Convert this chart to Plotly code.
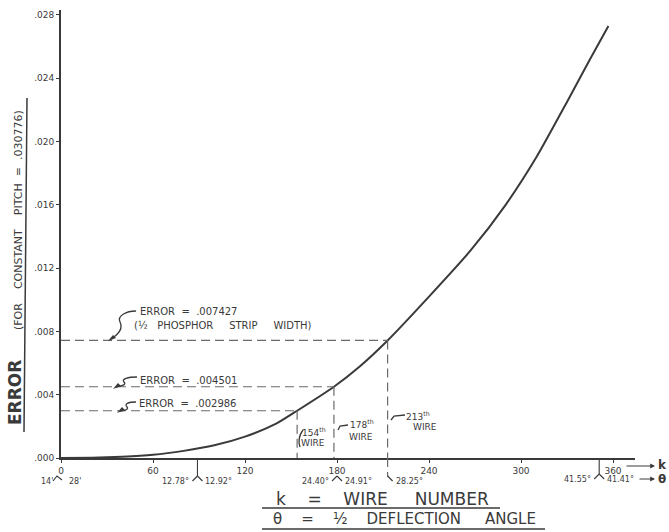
import plotly.graph_objects as go

# Error of wire position vs. wire number k (pitch held constant)
wire_k = [0, 20, 40, 60, 80, 100, 120, 140, 154, 178, 195, 213, 240, 267, 290, 310, 330, 345, 357]
error = [0, 0.00002, 0.00008, 0.0002, 0.00045, 0.0008, 0.00135, 0.00215, 0.002986,
         0.004501, 0.0058, 0.007427, 0.0102, 0.0131, 0.0160, 0.0190, 0.0225, 0.0252, 0.0273]

# Wires singled out with their errors
marked_k = [154, 178, 213]
marked_err = [0.002986, 0.004501, 0.007427]
marked_names = ["154<sup>th</sup>", "178<sup>th</sup>", "213<sup>th</sup>"]
error_notes = ["ERROR  =  .002986", "ERROR  =  .004501", "ERROR  =  .007427"]
strip_note = "(½   PHOSPHOR     STRIP     WIDTH)"

# Axis ticks
y_ticks = [0, 0.004, 0.008, 0.012, 0.016, 0.020, 0.024, 0.028]
y_tick_text = [".000", ".004", ".008", ".012", ".016", ".020", ".024", ".028"]
x_ticks = [0, 60, 120, 180, 240, 300, 360]
x_tick_text = ["0", "60", "120", "180", "240", "300", "360"]

# Half deflection angle pairs written under the k axis
angle_k = [0, 89, 180, 213, 351]
angle_left = ["14'", "12.78°", "24.40°", "", "41.55°"]
angle_right = ["28'", "12.92°", "24.91°", "28.25°", "41.41°"]

INK = "#3a3a3a"
FONT = "DejaVu Sans"

# plot area in pixels: x 61..635, y 10..458
def PX(p):
    return (p - 61) / 574.0

def PY(p):
    return (458 - p) / 448.0

def pix_path(cmds):
    out = []
    for c in cmds:
        if isinstance(c, str):
            out.append(c)
        else:
            out.append(f"{PX(c[0]):.5f},{PY(c[1]):.5f}")
    return " ".join(out)

def note(text, x, y, size=9, **kw):
    d = dict(text=text, x=PX(x), y=PY(y), xref="paper", yref="paper",
             xanchor="center", yanchor="middle", showarrow=False,
             font=dict(size=size, color=INK, family=FONT))
    d.update(kw)
    return d

fig = go.Figure()
fig.add_trace(go.Scatter(x=wire_k, y=error, mode="lines",
                         line=dict(color=INK, width=2, shape="spline", smoothing=0.6),
                         hoverinfo="skip", showlegend=False))

shapes = []
annotations = []
dash = dict(color="#6a6a6a", width=1.2, dash="9px,5px")
thin = dict(color=INK, width=1.1)

# dashed guides from the axes to each marked wire
for k, e in zip(marked_k, marked_err):
    shapes.append(dict(type="line", xref="x", yref="y", x0=0, x1=k, y0=e, y1=e, line=dash))
    shapes.append(dict(type="line", xref="x", yref="y", x0=k, x1=k, y0=e, y1=0, line=dash))
# the 213th guide runs on below the axis
shapes.append(dict(type="line", xref="x", x0=marked_k[2], x1=marked_k[2],
                   yref="paper", y0=PY(458), y1=PY(477), line=dash))

# wire labels beside the guides
wire_pos = [(314, 432, 313, 443), (362, 424, 361, 437), (418, 416, 425, 427)]
for name, (x1, y1, x2, y2) in zip(marked_names, wire_pos):
    annotations.append(note(name, x1, y1))
    annotations.append(note("WIRE", x2, y2))
leader = dict(color=INK, width=1.3)
shapes.append(dict(type="path", xref="paper", yref="paper", line=leader,
                   path=pix_path(["M", (303, 430), "Q", (297, 438), (300, 447)])))
shapes.append(dict(type="path", xref="paper", yref="paper", line=leader,
                   path=pix_path(["M", (338, 430), "L", (340, 426), "L", (348, 425)])))
shapes.append(dict(type="path", xref="paper", yref="paper", line=leader,
                   path=pix_path(["M", (391, 420), "L", (394, 416), "L", (405, 415)])))

# error notes with their curly leaders
note_pos = [(137, 403), (138, 380), (138, 311)]
for txt, (x, y) in zip(error_notes, note_pos):
    annotations.append(note(txt, x, y, size=10, xanchor="left"))
annotations.append(note(strip_note, 132, 325, size=10, xanchor="left"))
squiggles = [
    [(136, 402), (128, 402), (124, 404), (127, 407), (129, 409), (125, 411), (120, 411)],
    [(137, 377), (128, 377), (121, 379), (124, 382), (127, 385), (121, 386), (116, 387)],
    [(136, 311), (126, 311), (117, 316), (120, 322), (123, 328), (119, 334), (111, 339)],
]
for p in squiggles:
    shapes.append(dict(type="path", xref="paper", yref="paper", line=leader,
                       path=pix_path(["M", p[0], "C", p[1], p[2], p[3], "C", p[4], p[5], p[6]])))
    tx, ty = p[6]
    shapes.append(dict(type="path", xref="paper", yref="paper", line=dict(width=0),
                       fillcolor=INK,
                       path=pix_path(["M", (tx - 3, ty + 2), "L", (tx + 2, ty - 4),
                                      "L", (tx + 5, ty - 1), "Z"])))

# angle pairs under the k axis: a short stem splitting into two strokes
for k, lt, rt in zip(angle_k, angle_left, angle_right):
    if k == 351:
        vtx, lab = 474, 479
    else:
        vtx, lab = 476, 481
    if k in (89, 351):
        shapes.append(dict(type="line", xref="x", x0=k, x1=k, yref="paper",
                           y0=PY(459), y1=PY(vtx), line=thin))
    if k == 0:
        # strokes at the origin sit under the "0" label
        shapes.append(dict(type="path", xref="paper", yref="paper", line=thin,
                           path=pix_path(["M", (53, 481), "L", (57, 476), "L", (62, 480)])))
    else:
        if lt:
            shapes.append(dict(type="line", xref="x", xsizemode="pixel", xanchor=k,
                               x0=0, x1=-5, yref="paper", y0=PY(vtx), y1=PY(vtx + 5),
                               line=thin))
        shapes.append(dict(type="line", xref="x", xsizemode="pixel", xanchor=k, x0=0, x1=5,
                           yref="paper", y0=PY(vtx), y1=PY(vtx + 5), line=thin))
    if lt:
        annotations.append(dict(text=lt, x=k, y=PY(lab), xref="x", yref="paper",
                                xanchor="right", yanchor="middle", xshift=-6, showarrow=False,
                                font=dict(size=8, color=INK, family=FONT)))
    annotations.append(dict(text=rt, x=k, y=PY(lab), xref="x", yref="paper",
                            xanchor="left", yanchor="middle", xshift=6, showarrow=False,
                            font=dict(size=8, color=INK, family=FONT)))

# axis arrows to k and theta
annotations.append(dict(text="", x=PX(655), y=PY(466), xref="paper", yref="paper",
                        ax=-30, ay=0, showarrow=True, arrowhead=2, arrowsize=0.8,
                        arrowwidth=1.2, arrowcolor=INK))
annotations.append(note("<b>k</b>", 662, 465, size=12))
annotations.append(dict(text="", x=PX(655), y=PY(479), xref="paper", yref="paper",
                        ax=-17, ay=0, showarrow=True, arrowhead=2, arrowsize=0.8,
                        arrowwidth=1.2, arrowcolor=INK))
annotations.append(note("<b>θ</b>", 662, 479, size=12))

# axis titles
annotations.append(note("<b>ERROR</b>", 15, 393, size=17, textangle=-90))
annotations.append(note("(FOR    CONSTANT    PITCH  =  .030776)", 18, 220, size=11,
                        textangle=-90))
shapes.append(dict(type="line", xref="paper", yref="paper", x0=PX(27), y0=PY(98),
                   x1=PX(24), y1=PY(432), line=dict(color=INK, width=1.5)))
annotations.append(note("k    =    WIRE     NUMBER", 382, 499, size=17))
shapes.append(dict(type="line", xref="paper", yref="paper", x0=PX(262), y0=PY(508),
                   x1=PX(500), y1=PY(508), line=dict(color=INK, width=1.5)))
annotations.append(note("θ    =    ½    DEFLECTION     ANGLE", 404, 519, size=15))
shapes.append(dict(type="line", xref="paper", yref="paper", x0=PX(262), y0=PY(529),
                   x1=PX(545), y1=PY(529), line=dict(color=INK, width=1.5)))

fig.update_layout(
    width=669, height=532,
    margin=dict(l=61, r=34, t=10, b=74),
    paper_bgcolor="white", plot_bgcolor="white",
    showlegend=False,
    shapes=shapes, annotations=annotations,
    xaxis=dict(range=[0, 374.35], tickvals=x_ticks, ticktext=x_tick_text,
               showgrid=False, zeroline=False, showline=True, linecolor=INK, linewidth=2,
               ticks="outside", ticklen=3, tickcolor=INK,
               tickfont=dict(size=9, color=INK, family=FONT)),
    yaxis=dict(range=[0, 0.02831], tickvals=y_ticks, ticktext=y_tick_text,
               showgrid=False, zeroline=False, showline=True, linecolor=INK, linewidth=2,
               ticks="outside", ticklen=3, tickcolor=INK,
               tickfont=dict(size=9, color=INK, family=FONT)),
)

fig.write_html("out.html")
